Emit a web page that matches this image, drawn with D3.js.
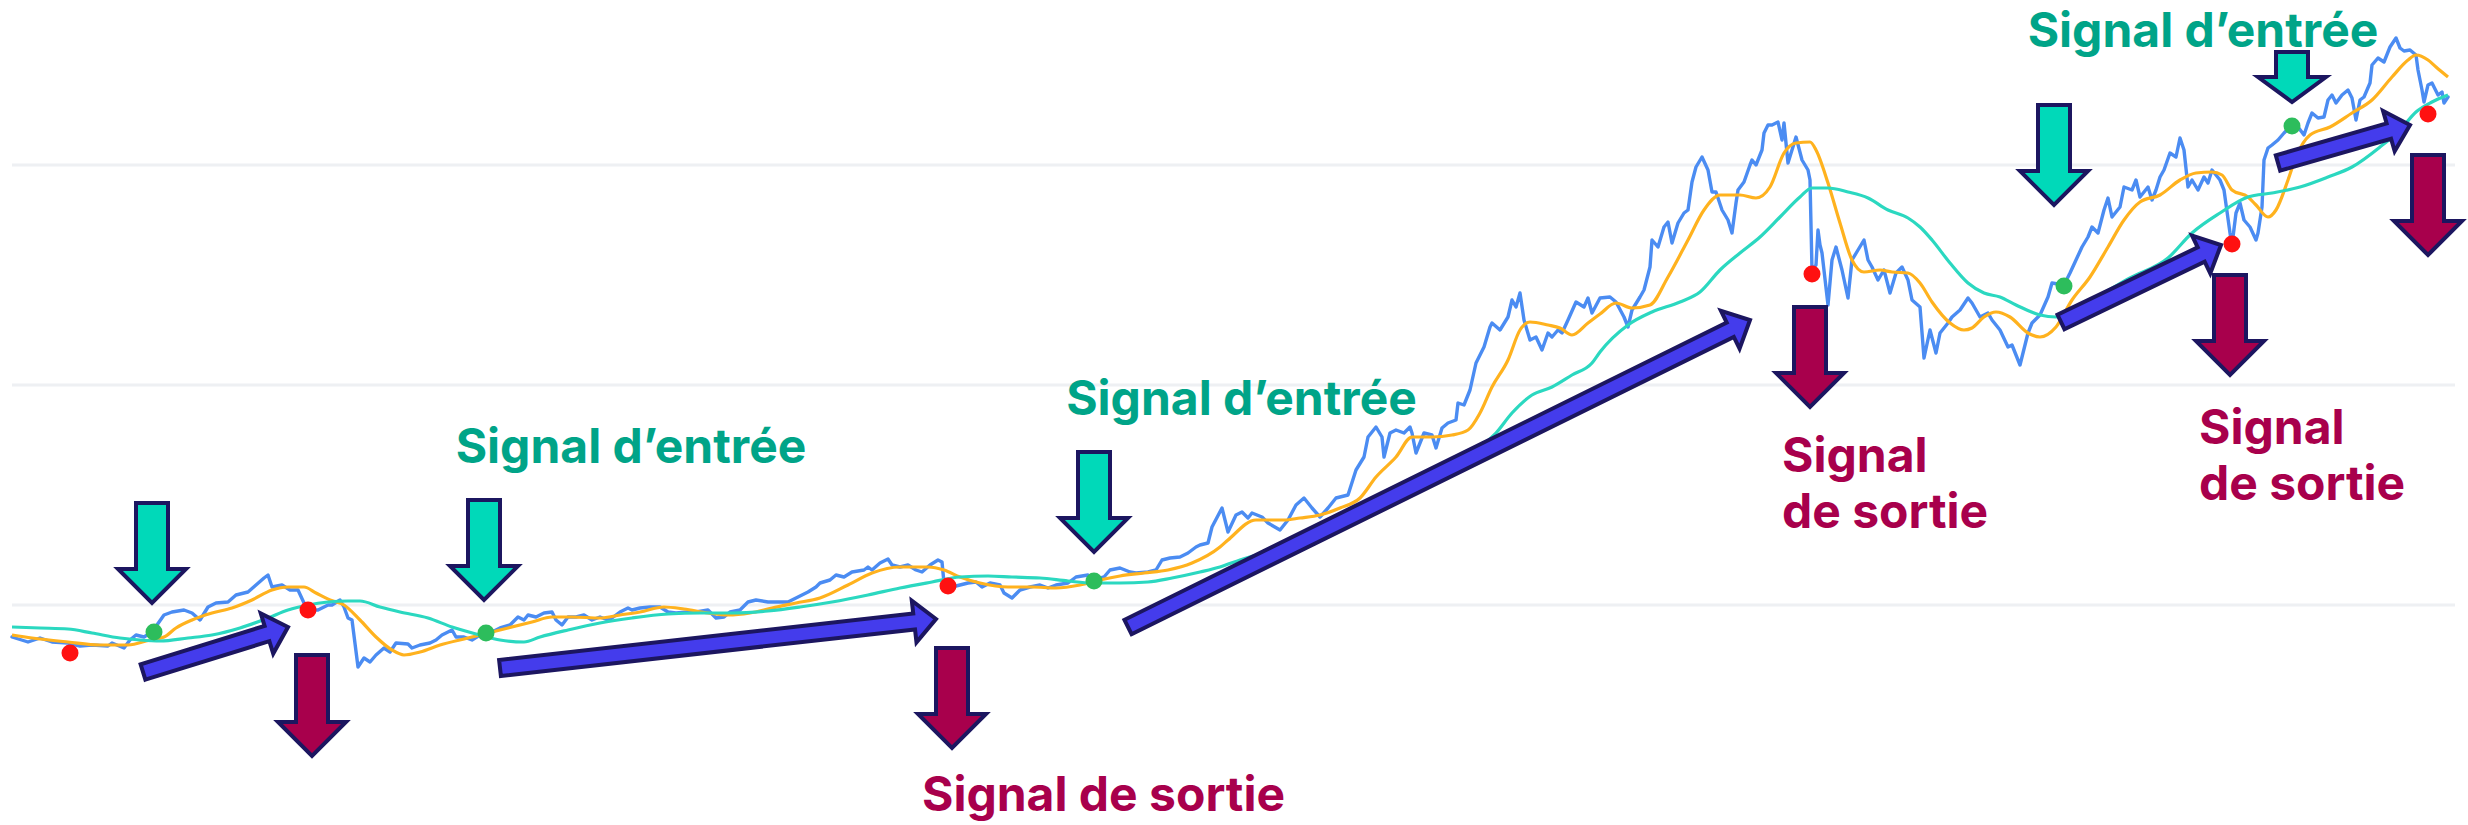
<!DOCTYPE html>
<html>
<head>
<meta charset="utf-8">
<script src="https://cdn.jsdelivr.net/npm/d3@7"></script>
<style>
  html, body { margin: 0; padding: 0; background: #ffffff; overflow: hidden; }
  svg { display: block; }
</style>
</head>
<body>
<svg id="chart" width="2468" height="825"></svg>
<script>
// Closing prices by session: [session, price]
const price = [
  [0,94],[8,91.5],[14,93.5],[20,91.5],[28,91],[34,89.5],[40,90],[48,89.5],[50,91],[56,88.5],
  [59,92.5],[62,95],[66,94],[70,96.5],[76,105],[80,106.5],[86,107.5],[90,106],[94,102.5],[98,109],
  [102,111],[108,111.5],[112,115],[118,116.5],[122,120],[126,123.5],[128,125],[130,119],[135,120],[139,117.5],
  [143,117.5],[146,111],[150,107.5],[153,107.5],[158,110],[160,110],[164,112.5],[166,109],[168,103.5],[170,102.5],
  [173,79],[176,83.5],[179,81.5],[182,85],[186,88.5],[189,86.5],[192,91],[198,90.5],[200,88.5],[204,90],
  [209,91],[212,92.5],[215,95],[218,96.5],[220,97.5],[222,94],[226,94],[230,92.5],[234,95],[239,96],
  [244,98.5],[249,100],[253,104],[256,102.5],[258,105],[262,104],[266,106],[270,106.5],[272,102.5],[275,100],
  [278,104],[282,104],[286,105],[290,102.5],[294,104],[298,102.5],[300,103.5],[304,106.5],[308,108.5],[310,107.5],
  [314,108.5],[319,109],[324,109],[328,106.5],[332,106],[338,106.5],[342,106.5],[348,107.5],[352,103.5],[356,104],
  [359,106.5],[364,107.5],[368,111.5],[372,112.5],[378,111.5],[382,111.5],[388,111.5],[392,113.5],[398,116.5],[402,119],
  [404,121],[409,122.5],[412,125],[416,124],[420,126.5],[426,127.5],[428,129],[430,127.5],[434,131],[438,133],
  [440,130],[444,129],[448,130],[452,127.5],[455,126.5],[459,130],[463,132.5],[465,131.5],[466,121],[470,119],
  [474,120],[478,121],[482,121.5],[485,119],[489,121],[494,120],[496,116],[500,113.5],[504,117.5],[509,119],
  [514,120],[518,118.5],[522,120],[528,121],[532,124],[538,125],[541,122.5],[546,124],[549,127.5],[554,128.5],
  [559,126.5],[562,126],[568,126.5],[572,127.5],[575,132.5],[579,133.5],[584,134],[588,136],[592,139],[594,140],
  [598,141],[600,149],[605,158.5],[608,146.5],[612,155],[615,156.5],[618,153.5],[620,156],[625,154],[628,151],
  [634,147.5],[638,152.5],[642,160],[646,163.5],[650,158.5],[654,154],[658,158.5],[662,163.5],[668,165],[672,177.5],
  [676,184],[678,194],[682,199],[685,194],[686,184],[689,196],[692,197.5],[696,196],[699,199],[700,196],
  [702,186],[706,196],[710,195],[712,188.5],[715,198.5],[718,201],[722,202.5],[723,211],[726,210],[729,217.5],
  [732,231],[736,239],[739,249],[740,251],[744,247.5],[748,254],[750,262.5],[752,259],[754,266],[756,252.5],
  [759,242.5],[762,244],[765,237.5],[768,246],[770,244],[773,247.5],[775,246],[778,252.5],[782,261.5],[786,259],
  [788,263.5],[790,256],[794,263.5],[799,264],[802,261.5],[806,254],[808,249],[810,257.5],[814,264],[816,267.5],
  [819,279],[820,292.5],[823,289],[826,299],[828,301.5],[830,291],[833,301],[836,306],[838,307.5],[840,321.5],
  [842,329],[845,334],[848,327.5],[850,316.5],[852,316.5],[855,307.5],[858,302.5],[860,296],[862,311],[863,317.5],
  [866,321.5],[869,330],[870,332.5],[872,330],[875,337.5],[876,346],[878,350],[880,350],[883,351.5],[885,342.5],
  [886,351],[888,331],[890,337.5],[892,344],[895,332.5],[898,327.5],[899,322.5],[900,277.5],[902,280],[903,297.5],
  [904,290],[905,286],[908,260],[910,282.5],[912,289],[915,277.5],[918,263.5],[920,282.5],[923,287.5],[926,292.5],
  [928,282.5],[930,279],[933,272.5],[936,277.5],[939,266],[942,276],[945,279],[948,272.5],[950,262.5],[954,259],
  [956,233.5],[959,247.5],[962,236],[964,246],[968,251],[970,254],[974,257.5],[978,263.5],[980,261],[984,254],
  [988,256],[990,252.5],[994,247.5],[998,239],[1000,240],[1004,230],[1008,246],[1010,251],[1014,255],[1018,264],
  [1020,271],[1026,270],[1029,276],[1032,282.5],[1035,289],[1038,294],[1040,299],[1043,296],[1046,307.5],[1048,313.5],
  [1050,304],[1054,309],[1056,319],[1060,317.5],[1062,322.5],[1064,314],[1068,319],[1070,312.5],[1072,317.5],[1074,324],
  [1076,327.5],[1079,336],[1082,334],[1084,343.5],[1086,337.5],[1088,319],[1090,322.5],[1093,317.5],[1096,324],[1098,321],
  [1100,327.5],[1104,322.5],[1106,317.5],[1109,296],[1110,290],[1112,306],[1114,311],[1116,302.5],[1119,299],[1122,292.5],
  [1123,296],[1125,309],[1126,332.5],[1128,338.5],[1130,340],[1133,342.5],[1136,346],[1139,349],[1143,349],[1146,345],
  [1148,351],[1150,356],[1153,353.5],[1156,354],[1158,362.5],[1160,365],[1162,361],[1165,365],[1168,367.5],[1170,363.5],
  [1172,352.5],[1174,362.5],[1176,364],[1179,371],[1180,380],[1183,383.5],[1186,381.5],[1189,389],[1192,393.5],[1194,388.5],
  [1196,387],[1199,387.5],[1202,385],[1203,377.5],[1205,367.5],[1206,361.5],[1208,370],[1210,371],[1213,365],[1215,366.5],
  [1216,361],[1218,364]
];

// Fast moving average: [session, value]
const fastMA = [
  [0,95],[10,93.5],[28,91.5],[44,90],[58,90],[69,92.5],[76,94],[82,98.5],[90,102.5],[100,106],
  [110,108.5],[120,112.5],[130,117.5],[138,119],[146,119],[152,116],[159,112.5],[166,110],[174,102.5],[182,94],
  [190,87.5],[196,85],[204,86.5],[214,90],[228,93.5],[238,96],[248,98.5],[260,101.5],[270,104],[280,104],
  [294,103.5],[304,105],[314,106.5],[326,109],[336,108],[348,106],[358,105],[369,106],[380,108.5],[392,111],
  [404,113.5],[418,120],[430,126],[444,129],[458,129],[466,127.5],[474,124],[484,121],[498,119],[510,119],
  [522,118.5],[534,120],[544,122.5],[554,124.5],[566,126],[578,127.5],[590,131],[604,139],[608,142.5],[622,152.5],
  [636,152.5],[644,153.5],[654,155],[664,158.5],[674,163.5],[682,174],[692,184],[700,194],[710,194],[720,195],
  [728,197.5],[734,206],[740,219],[748,232.5],[754,247.5],[759,251.5],[768,250],[774,248.5],[780,245],[788,251],
  [794,255.5],[802,261],[810,258.5],[819,260],[828,274],[838,292.5],[846,307.5],[854,315],[864,315],[872,313.5],
  [879,319],[886,336],[892,341],[899,341.5],[902,337.5],[908,321],[914,301],[920,282.5],[926,276.5],[934,277.5],
  [940,276.5],[948,276],[954,271],[960,261.5],[969,251],[976,247.5],[980,248.5],[986,254],[992,256.5],[999,254],
  [1008,246],[1014,244],[1022,249],[1030,262.5],[1039,274],[1048,289],[1056,302.5],[1064,311.5],[1074,315],[1084,322.5],
  [1092,326],[1100,326.5],[1105,325],[1110,317.5],[1118,314],[1122,310],[1128,304],[1132,307.5],[1138,322.5],[1142,334],
  [1149,345],[1159,349],[1170,356],[1180,362.5],[1190,374],[1198,382.5],[1202,385],[1208,382.5],[1212,379],[1218,374]
];

// Slow moving average: [session, value]
const slowMA = [
  [0,99],[14,98.5],[28,98],[40,96],[54,93.5],[64,92.5],[74,92],[88,93.5],[100,95],[114,98.5],
  [128,103.5],[138,107.5],[148,110],[158,111.5],[168,112],[174,112],[184,109],[194,106.5],[208,103.5],[220,99],
  [234,95],[244,92.5],[256,91.5],[264,94],[278,97.5],[294,101],[310,103.5],[328,105.5],[344,106],[360,106],
  [378,107],[394,109],[410,111.5],[428,115],[444,118.5],[460,121.5],[474,124],[488,124.5],[500,124],[514,123.5],
  [528,122],[540,121],[554,121],[568,121.5],[580,123.5],[594,126.5],[604,129],[614,132.5],[644,141.5],[669,154],
  [694,167.5],[719,181.5],[742,196],[750,206],[760,215],[770,219],[780,225],[790,231],[794,236.5],[808,250],
  [820,256.5],[834,261.5],[844,266.5],[854,277.5],[864,286],[874,294],[884,304],[894,314],[900,318.5],[908,318.5],
  [918,316.5],[928,313.5],[938,307.5],[948,303.5],[954,299],[960,292.5],[969,281],[978,271],[986,266],[994,264],
  [1002,260],[1014,255],[1022,254],[1030,257.5],[1044,265],[1059,273.5],[1078,283.5],[1090,296],[1104,306],[1118,314],
  [1130,316],[1144,319],[1158,324],[1170,329],[1184,339],[1194,347.5],[1202,356.5],[1210,361.5],[1218,365]
];

// Crossover signals: [session, price]
const entrySignals = [[71,96.5],[237,96],[541,122],[1026,269.5],[1140,349.5]];
const exitSignals = [[29,86],[148,107.5],[468,119.5],[900,275.5],[1110,290.5],[1208,355.5]];

// Horizontal reference levels
const gridValues = [110, 220, 330];

// Callout arrows: [session, from price, to price]
const entryCallouts = [[70,161,111],[236,162.5,112.5],[541,186.5,136.5],[1021,360,310],[1140,386.5,361.5]];
const exitCallouts = [[150,85,34.5],[470,88.5,38.5],[899,259,209],[1109,275,225],[1208,335,285]];

// Trend arrows: [start session, start price, end session, end price]
const trendArrows = [
  [65.5,76.5,138,99],[244,78.5,462,103],[558,99,869,252.5],[1024.5,251.5,1104.5,290],[1133,331,1199,350]
];

// Labels: [text lines, session, baseline price, anchor]
const entryText = "Signal d\u2019entrée";
const entryLabels = [[[entryText],309.5,181,"middle"],[[entryText],614.75,205,"middle"],[[entryText],1095.5,389,"middle"]];
const exitLabels = [[["Signal de sortie"],545.75,7,"middle"],[["Signal","de sortie"],885,176.5,"start"],[["Signal","de sortie"],1093.5,190.5,"start"]];

const svg = d3.select("#chart");

const x = d3.scaleLinear().domain([0, 1218]).range([12, 2448]);
const y = d3.scaleLinear().domain([0, 412.5]).range([825, 0]);

// grid
svg.append("g").selectAll("line").data(gridValues).join("line")
  .attr("x1", 12).attr("x2", 2455)
  .attr("y1", d => y(d)).attr("y2", d => y(d))
  .attr("stroke", "#eef0f3").attr("stroke-width", 3);

const lineOf = curve => d3.line().x(d => x(d[0])).y(d => y(d[1])).curve(curve);

svg.append("path").datum(price)
  .attr("d", lineOf(d3.curveLinear))
  .attr("fill", "none").attr("stroke", "#4b8cf2").attr("stroke-width", 3.4)
  .attr("stroke-linejoin", "round").attr("stroke-linecap", "round");

svg.append("path").datum(fastMA)
  .attr("d", lineOf(d3.curveMonotoneX))
  .attr("fill", "none").attr("stroke", "#ffb21e").attr("stroke-width", 3.2);

svg.append("path").datum(slowMA)
  .attr("d", lineOf(d3.curveMonotoneX))
  .attr("fill", "none").attr("stroke", "#2bd8c0").attr("stroke-width", 3.2);

// signal dots
svg.append("g").selectAll("circle").data(exitSignals).join("circle")
  .attr("cx", d => x(d[0])).attr("cy", d => y(d[1])).attr("r", 8.5)
  .attr("fill", "#ff1111");
svg.append("g").selectAll("circle").data(entrySignals).join("circle")
  .attr("cx", d => x(d[0])).attr("cy", d => y(d[1])).attr("r", 8.5)
  .attr("fill", "#2dbd5c");

const STROKE = "#1c1660";

// trend arrows
function trendPath(d) {
  const x0 = x(d[0]), y0 = y(d[1]), x1 = x(d[2]), y1 = y(d[3]);
  const L = Math.hypot(x1 - x0, y1 - y0);
  const ux = (x1 - x0) / L, uy = (y1 - y0) / L;
  const nx = -uy, ny = ux;
  const sw = 8, hw = 21, hl = 22;
  const bx = x1 - ux * hl, by = y1 - uy * hl;
  const pts = [
    [x0 + nx * sw, y0 + ny * sw], [bx + nx * sw, by + ny * sw], [bx + nx * hw, by + ny * hw],
    [x1, y1], [bx - nx * hw, by - ny * hw], [bx - nx * sw, by - ny * sw], [x0 - nx * sw, y0 - ny * sw]
  ];
  return "M" + pts.map(p => p.join(",")).join("L") + "Z";
}
svg.append("g").selectAll("path").data(trendArrows).join("path")
  .attr("d", trendPath)
  .attr("fill", "#443cec").attr("stroke", STROKE).attr("stroke-width", 4)
  .attr("stroke-linejoin", "miter");

// callout arrows pointing down
function downPath(d) {
  const cx = x(d[0]), yT = y(d[1]), yB = y(d[2]);
  const len = yB - yT;
  const hl = Math.min(34, len * 0.5), sw = 16, hw = 34;
  const pts = [
    [cx - sw, yT], [cx + sw, yT], [cx + sw, yB - hl], [cx + hw, yB - hl],
    [cx, yB], [cx - hw, yB - hl], [cx - sw, yB - hl]
  ];
  return "M" + pts.map(p => p.join(",")).join("L") + "Z";
}
svg.append("g").selectAll("path").data(entryCallouts).join("path")
  .attr("d", downPath)
  .attr("fill", "#00d9b9").attr("stroke", STROKE).attr("stroke-width", 4);
svg.append("g").selectAll("path").data(exitCallouts).join("path")
  .attr("d", downPath)
  .attr("fill", "#a8004c").attr("stroke", STROKE).attr("stroke-width", 4);

// labels
function drawLabels(data, color) {
  const g = svg.append("g")
    .attr("font-family", "Inter, Roboto, sans-serif")
    .attr("font-weight", 700).attr("font-size", 48).attr("fill", color);
  data.forEach(([lines, s, v, anchor]) => {
    const t = g.append("text").attr("x", x(s)).attr("y", y(v)).attr("text-anchor", anchor);
    lines.forEach((ln, i) => {
      t.append("tspan").attr("x", x(s)).attr("dy", i === 0 ? 0 : 56).text(ln);
    });
  });
}
drawLabels(entryLabels, "#00a488");
drawLabels(exitLabels, "#a8004c");
</script>
</body>
</html>
